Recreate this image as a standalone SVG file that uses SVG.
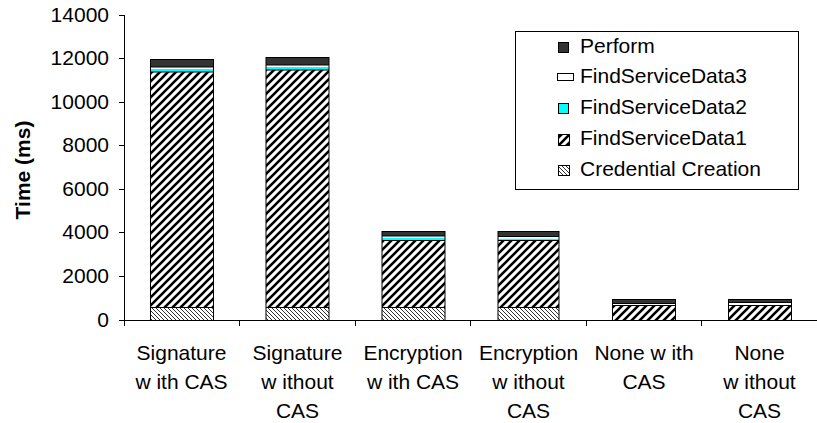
<svg xmlns="http://www.w3.org/2000/svg" width="817" height="423" viewBox="0 0 817 423">
  <style>
    text { font-family: "Liberation Sans", Arial, sans-serif; font-size: 21px; fill: #000; }
    .ytick { text-anchor: end; }
    .xlab { text-anchor: middle; }
    .title { font-weight: bold; text-anchor: middle; }
    .axis { stroke: #000; stroke-width: 1; fill: none; }
    .edge { stroke: #000; stroke-width: 1; fill: none; }
    .perform { fill: #333333; }
    .fsd3 { fill: #ffffff; }
    .fsd2 { fill: #00ffff; }
    .fsd1 { fill: url(#hatchUp); }
    .cred { fill: url(#hatchDown); }
  </style>
  <defs>
    <!-- wide upward diagonal -->
    <pattern id="hatchUp" patternUnits="userSpaceOnUse" width="8" height="8">
      <rect width="8" height="8" fill="#fff"/>
      <path d="M-2,2 L2,-2 M0,8 L8,0 M6,10 L10,6" stroke="#000" stroke-width="2.6"/>
    </pattern>
    <!-- light downward diagonal -->
    <pattern id="hatchDown" patternUnits="userSpaceOnUse" width="4" height="4">
      <rect width="4" height="4" fill="#fff"/>
      <path d="M-1,-1 L5,5 M-1,3 L1,5 M3,-1 L5,1" stroke="#333" stroke-width="1"/>
    </pattern>
  </defs>

  <rect width="817" height="423" fill="#fff"/>

  <!-- axes -->
  <g id="axes">
    <path class="axis" d="M124.5,15 V320.5 H817"/>
    <path class="axis" d="M119,15.5 H124.5 M119,58.5 H124.5 M119,102.5 H124.5 M119,145.5 H124.5 M119,189.5 H124.5 M119,232.5 H124.5 M119,276.5 H124.5 M119,320.5 H124.5"/>
    <path class="axis" d="M124.5,320 V326 M239.5,320 V326 M355.5,320 V326 M470.5,320 V326 M586.5,320 V326 M701.5,320 V326"/>
    <text class="ytick" x="109" y="22">14000</text>
    <text class="ytick" x="109" y="65">12000</text>
    <text class="ytick" x="109" y="109">10000</text>
    <text class="ytick" x="109" y="152">8000</text>
    <text class="ytick" x="109" y="196">6000</text>
    <text class="ytick" x="109" y="239">4000</text>
    <text class="ytick" x="109" y="283">2000</text>
    <text class="ytick" x="109" y="327">0</text>
    <text class="title" transform="translate(29.5,170) rotate(-90)">Time (ms)</text>
  </g>

  <!-- stacked bars: Credential Creation, FindServiceData1..3, Perform (bottom to top) -->
  <g id="bar-signature-with-cas">
    <rect class="cred" x="150.5" y="307.5" width="63" height="13"/>
    <rect class="fsd1" x="150.5" y="72" width="63" height="235.5"/>
    <rect class="fsd2" x="150.5" y="69" width="63" height="3"/>
    <rect class="fsd3" x="150.5" y="67" width="63" height="2"/>
    <rect class="perform" x="150.5" y="59.5" width="63" height="7.5"/>
    <path class="edge" d="M150.5,67 H213.5 M150.5,72 H213.5 M150.5,307.5 H213.5"/>
    <rect class="edge" x="150.5" y="59.5" width="63" height="261"/>
  </g>
  <g id="bar-signature-without-cas">
    <rect class="cred" x="266" y="307.5" width="63" height="13"/>
    <rect class="fsd1" x="266" y="70" width="63" height="237.5"/>
    <rect class="fsd2" x="266" y="67" width="63" height="3"/>
    <rect class="fsd3" x="266" y="65" width="63" height="2"/>
    <rect class="perform" x="266" y="57.5" width="63" height="7.5"/>
    <path class="edge" d="M266,65 H329 M266,70 H329 M266,307.5 H329"/>
    <rect class="edge" x="266" y="57.5" width="63" height="263"/>
  </g>
  <g id="bar-encryption-with-cas">
    <rect class="cred" x="382" y="307.5" width="63" height="13"/>
    <rect class="fsd1" x="382" y="240" width="63" height="67.5"/>
    <rect class="fsd2" x="382" y="237.5" width="63" height="2.5"/>
    <rect class="fsd3" x="382" y="236" width="63" height="1.5"/>
    <rect class="perform" x="382" y="231.5" width="63" height="4.5"/>
    <path class="edge" d="M382,236 H445 M382,240.5 H445 M382,307.5 H445"/>
    <rect class="edge" x="382" y="231.5" width="63" height="89"/>
  </g>
  <g id="bar-encryption-without-cas">
    <rect class="cred" x="498" y="307.5" width="61" height="13"/>
    <rect class="fsd1" x="498" y="240" width="61" height="67.5"/>
    <rect class="fsd2" x="498" y="238.5" width="61" height="1.5"/>
    <rect class="fsd3" x="498" y="236.5" width="61" height="2"/>
    <rect class="perform" x="498" y="231.5" width="61" height="5"/>
    <path class="edge" d="M498,236.5 H559 M498,240.5 H559 M498,307.5 H559"/>
    <rect class="edge" x="498" y="231.5" width="61" height="89"/>
  </g>
  <g id="bar-none-with-cas">
    <rect class="fsd1" x="612.5" y="305" width="63" height="15.5"/>
    <rect class="fsd3" x="612.5" y="303.5" width="63" height="1.5"/>
    <rect class="perform" x="612.5" y="299.5" width="63" height="4"/>
    <path class="edge" d="M612.5,303.5 H675.5 M612.5,305.5 H675.5"/>
    <rect class="edge" x="612.5" y="299.5" width="63" height="21"/>
  </g>
  <g id="bar-none-without-cas">
    <rect class="fsd1" x="728.5" y="305.5" width="63" height="15"/>
    <rect class="fsd3" x="728.5" y="302.5" width="63" height="3"/>
    <rect class="perform" x="728.5" y="299.5" width="63" height="3"/>
    <path class="edge" d="M728.5,302.5 H791.5 M728.5,305.5 H791.5"/>
    <rect class="edge" x="728.5" y="299.5" width="63" height="21"/>
  </g>

  <!-- category labels -->
  <g id="category-labels">
    <text class="xlab" x="181.5" y="359.5">Signature</text>
    <text class="xlab" x="181.5" y="388.5">w ith CAS</text>
    <text class="xlab" x="297.5" y="359.5">Signature</text>
    <text class="xlab" x="297.5" y="388.5">w ithout</text>
    <text class="xlab" x="297.5" y="417.5">CAS</text>
    <text class="xlab" x="413" y="359.5">Encryption</text>
    <text class="xlab" x="413" y="388.5">w ith CAS</text>
    <text class="xlab" x="528.5" y="359.5">Encryption</text>
    <text class="xlab" x="528.5" y="388.5">w ithout</text>
    <text class="xlab" x="528.5" y="417.5">CAS</text>
    <text class="xlab" x="644" y="359.5">None w ith</text>
    <text class="xlab" x="644" y="388.5">CAS</text>
    <text class="xlab" x="759.5" y="359.5">None</text>
    <text class="xlab" x="759.5" y="388.5">w ithout</text>
    <text class="xlab" x="759.5" y="417.5">CAS</text>
  </g>

  <!-- legend -->
  <g id="legend">
    <rect x="515.5" y="31.5" width="283" height="158" fill="#fff" stroke="#000" stroke-width="1"/>
    <rect class="perform" x="558.5" y="42.5" width="10" height="10" stroke="#000"/>
    <text x="580" y="52.5">Perform</text>
    <rect class="fsd3" x="557.5" y="73.5" width="16" height="7" stroke="#000"/>
    <text x="580" y="83">FindServiceData3</text>
    <rect class="fsd2" x="558.5" y="103.5" width="10" height="10" stroke="#000"/>
    <text x="580" y="114">FindServiceData2</text>
    <rect class="fsd1" x="558.5" y="134.5" width="11" height="11" stroke="#000"/>
    <text x="580" y="145">FindServiceData1</text>
    <rect class="cred" x="558.5" y="165.5" width="11" height="10" stroke="#000"/>
    <text x="580" y="175.5">Credential Creation</text>
  </g>
</svg>
